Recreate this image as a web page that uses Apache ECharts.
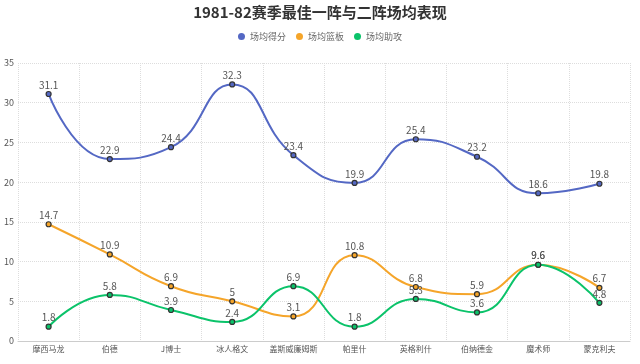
<!DOCTYPE html>
<html><head><meta charset="utf-8">
<script src="https://cdn.jsdelivr.net/npm/echarts@6/dist/echarts.min.js"></script>
<style>html,body{margin:0;padding:0;background:#fff}#c{width:640px;height:364px}</style>
</head><body><div id="c"></div>
<script>
const categories = ['摩西马龙','伯德','J博士','冰人格文','盖斯威廉姆斯','帕里什','英格利什','伯纳德金','魔术师','蒙克利夫'];
const points = [31.1,22.9,24.4,32.3,23.4,19.9,25.4,23.2,18.6,19.8];
const rebounds = [14.7,10.9,6.9,5,3.1,10.8,6.8,5.9,9.6,6.7];
const assists = [1.8,5.8,3.9,2.4,6.9,1.8,5.3,3.6,9.6,4.8];
const seriesNames = ['场均得分','场均篮板','场均助攻'];
const colors = ['#5468c4','#f5a52a','#0bc36a'];
const font = "'Noto Sans CJK SC', sans-serif";
function mk(name, data, color){
  return {name, type:'line', data, smooth:true, symbol:'circle', symbolSize:5,
    lineStyle:{width:2,color}, itemStyle:{color, borderColor:'#333', borderWidth:1.2},
    label:{show:true, position:'top', distance:1, color:'#555', fontSize:10, fontFamily:font}};
}
const chart = echarts.init(document.getElementById('c'));
chart.setOption({
  animation:false,
  color: colors,
  title:{text:'1981-82赛季最佳一阵与二阵场均表现', left:'center', top:0,
    textStyle:{fontSize:15, fontWeight:'bold', color:'#333', fontFamily:font}},
  legend:{top:27, itemWidth:7, itemHeight:7, icon:'circle', itemGap:10,
    itemStyle:{borderWidth:0},
    textStyle:{fontSize:9, color:'#666', fontFamily:font}},
  grid:{left:18, right:10, top:63, bottom:23, containLabel:false},
  xAxis:{type:'category', data:categories, boundaryGap:true,
    axisLine:{lineStyle:{color:'#ccc'}}, axisTick:{show:false},
    axisLabel:{fontSize:8, color:'#555', fontFamily:font, interval:0, margin:4},
    splitLine:{show:true, lineStyle:{type:'dotted', color:'#ddd'}}},
  yAxis:{type:'value', min:0, max:35, interval:5,
    axisLine:{show:false}, axisTick:{show:false},
    axisLabel:{fontSize:9, color:'#555', fontFamily:font, margin:4},
    splitLine:{lineStyle:{type:'dotted', color:'#ddd'}}},
  series:[mk(seriesNames[0],points,colors[0]), mk(seriesNames[1],rebounds,colors[1]), mk(seriesNames[2],assists,colors[2])]
});
</script></body></html>
